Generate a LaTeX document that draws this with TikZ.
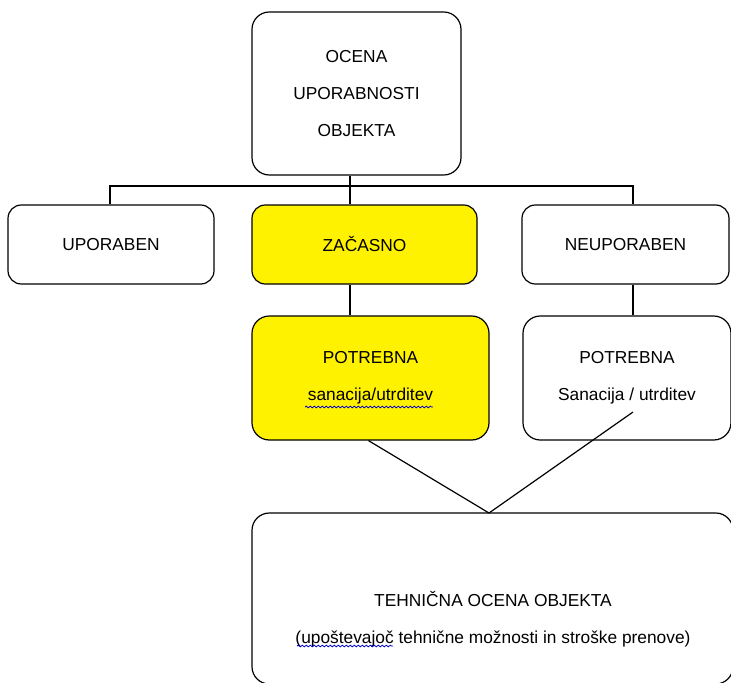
\documentclass[tikz,border=0pt]{standalone}
\usepackage{fontspec}
\setmainfont{Liberation Sans}
\usetikzlibrary{calc,decorations.pathmorphing}

\begin{document}
\begin{tikzpicture}[x=0.75pt, y=-0.75pt,
    box/.style={rectangle, draw, rounded corners=13pt, line width=0.9pt, inner sep=0pt, align=center, font=\fontsize{13}{28}\selectfont},
    txt/.style={align=center, inner sep=0pt, font=\fontsize{13}{28}\selectfont},
    conn/.style={line width=0.9pt},
    spell/.style={blue!80!black, line width=0.6pt, decorate, decoration={snake, amplitude=0.6pt, segment length=3pt}}
]
\useasboundingbox (0,0) rectangle (731,682);

\node[box, minimum width=156.75pt, minimum height=122.25pt] (ocena) at (356.5,93.5) {OCENA\\UPORABNOSTI\\OBJEKTA};

\node[box, rounded corners=10pt, minimum width=154.5pt, minimum height=59.25pt] (upo) at (111,244.5) {UPORABEN};
\node[box, rounded corners=10pt, fill=yellow, minimum width=168.75pt, minimum height=59.25pt] (zac) at (364.5,244.5) {ZAČASNO};
\node[box, rounded corners=10pt, minimum width=155.25pt, minimum height=59.25pt] (neu) at (625.5,244.5) {NEUPORABEN};

\node[box, fill=yellow, minimum width=177.75pt, minimum height=93pt] (potY) at (370.5,378) {POTREBNA\\sanacija/utrditev};
\node[box, minimum width=156pt, minimum height=93pt] (potW) at (627,378) {POTREBNA\\Sanacija / utrditev};

\node[box, minimum width=360.75pt, minimum height=128.25pt] (teh) at (492.5,598.5) {};
\node[txt] (tehtxt) at (493,619) {TEHNIČNA OCENA OBJEKTA\\(upoštevajoč tehnične možnosti in stroške prenove)};

\coordinate (bar) at (350,186);
\coordinate (barL) at (110,186);
\coordinate (barR) at (633,186);
\coordinate (potWin) at (633,412);
\coordinate (meet) at (489,513);

\draw[conn] (ocena.south -| bar) -- (zac.north -| bar);
\draw[conn] (upo.north -| barL) -- (barL) -- (barR) -- (neu.north -| barR);
\draw[conn] (zac.south -| bar) -- (potY.north -| bar);
\draw[conn] (neu.south -| barR) -- (potW.north -| barR);
\draw[conn] ($(potY.south)+(-2,0)$) -- (meet);
\draw[conn] (potWin) -- (meet);

% spell-check marks
\draw[spell] (305,407) -- (433,407);
\draw[spell] (297,646) -- (393,646);
\end{tikzpicture}
\end{document}
